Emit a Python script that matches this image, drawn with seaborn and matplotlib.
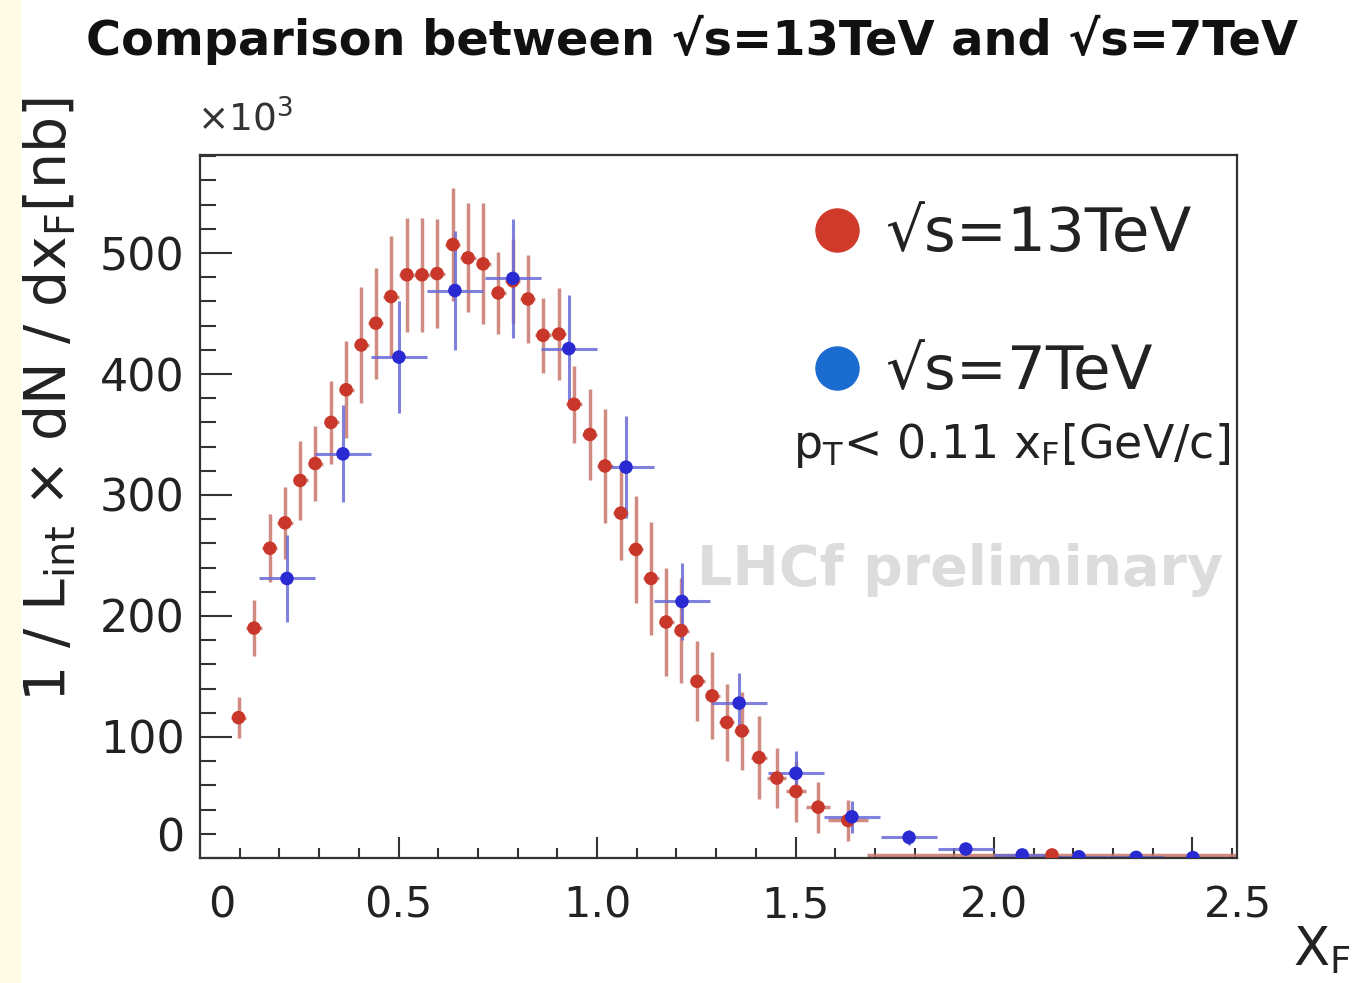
import numpy as np
import pandas as pd
import matplotlib
matplotlib.use("Agg")
import matplotlib.pyplot as plt
import matplotlib.transforms as mtransforms
from matplotlib.lines import Line2D
from matplotlib.patches import Rectangle
from matplotlib.ticker import MultipleLocator
import seaborn as sns

# sqrt(s) = 13 TeV points (values in units of 10^3 nb)
xf_13 = [0.097, 0.136, 0.176, 0.214, 0.252, 0.290, 0.330, 0.368, 0.406, 0.443,
         0.481, 0.521, 0.559, 0.597, 0.637, 0.675, 0.713, 0.751, 0.788, 0.826,
         0.864, 0.904, 0.942, 0.982, 1.020, 1.060, 1.098, 1.136, 1.174, 1.212,
         1.252, 1.290, 1.327, 1.365, 1.408, 1.453, 1.501, 1.557, 1.632, 2.146]
dn_13 = [116, 190, 256, 277, 312, 326, 360, 387, 424, 442,
         464, 482, 482, 483, 507, 496, 491, 467, 477, 462,
         432, 433, 375, 350, 324, 285, 255, 231, 195, 188,
         146, 134, 112, 105, 83, 66, 55, 42, 31, 2.5]
yerr_13 = [17, 23, 28, 30, 33, 31, 34, 40, 48, 46,
           50, 47, 47, 45, 47, 45, 50, 34, 35, 36,
           31, 38, 32, 38, 47, 39, 44, 47, 45, 43,
           33, 36, 32, 32, 34, 25, 25, 21, 17, 2]
xerr_13 = [0.019] * 34 + [0.021, 0.024, 0.026, 0.03, 0.05, 0.466]

# sqrt(s) = 7 TeV points
xf_7 = [0.219, 0.360, 0.501, 0.642, 0.788, 0.929, 1.073, 1.214, 1.358,
        1.501, 1.642, 1.786, 1.929, 2.071, 2.214, 2.358, 2.501]
dn_7 = [231, 334, 414, 469, 479, 421, 323, 212, 128,
        70, 34, 17, 7.4, 2.5, 1.0, 0.5, 0.3]
yerr_7 = [36, 40, 46, 49, 49, 44, 42, 32, 25,
          18, 13, 6, 3, 2, 1, 1, 1]
xerr_7 = [0.071] * 17

labels = ["√s=13TeV", "√s=7TeV"]

red_pt, red_bar, red_leg = "#c8372a", "#c8786c", "#d03a2a"
blue_pt, blue_bar, blue_leg = "#2a2ad2", "#6a6ad8", "#1a6cd0"

sns.set_style("white")
plt.rcParams["font.family"] = ["DejaVu Sans"]
plt.rcParams["mathtext.fontset"] = "dejavusans"

fig = plt.figure(figsize=(13.59, 9.83), dpi=100)
fig.patches.append(Rectangle((0, 0), 20 / 1359, 1, transform=fig.transFigure,
                             color="#fffbe6", zorder=0))
ax = fig.add_axes([0.1472, 0.1272, 0.763, 0.7151])

ax.text(0.733, 0.41, "LHCf preliminary", transform=ax.transAxes, fontsize=40,
        fontweight="bold", color="#dcdcdc", ha="center", va="center", zorder=0)

ax.errorbar(xf_13, dn_13, xerr=xerr_13, yerr=yerr_13, fmt="none",
            ecolor=red_bar, elinewidth=2.5, alpha=0.85, zorder=2)
ax.errorbar(xf_7, dn_7, xerr=xerr_7, yerr=yerr_7, fmt="none",
            ecolor=blue_bar, elinewidth=2.2, alpha=0.85, zorder=2)

df = pd.concat([
    pd.DataFrame({"xF": xf_13, "val": dn_13, "energy": labels[0]}),
    pd.DataFrame({"xF": xf_7, "val": dn_7, "energy": labels[1]}),
])
sns.scatterplot(data=df, x="xF", y="val", hue="energy",
                palette={labels[0]: red_pt, labels[1]: blue_pt},
                s=95, edgecolor="none", legend=False, ax=ax, zorder=3)

ax.set_xlim(0, 2.612)
ax.set_ylim(0, 581)
ax.set_xticks([0, 0.5, 1.0, 1.5, 2.0, 2.5], ["0", "0.5", "1.0", "1.5", "2.0", "2.5"])
ax.set_yticks([0, 100, 200, 300, 400, 500])
ax.xaxis.set_minor_locator(MultipleLocator(0.1))
ax.yaxis.set_minor_locator(MultipleLocator(20))
ax.set_xlabel("")
ax.set_ylabel("")
ax.tick_params(which="both", direction="in", bottom=True, left=True, top=False,
               right=False, colors="#333333", labelcolor="#222222", width=1.5)
ax.tick_params(axis="x", which="major", length=15, labelsize=31, pad=19)
ax.tick_params(axis="x", which="minor", length=7)
ax.tick_params(axis="y", which="major", length=23, labelsize=32, pad=11)
ax.tick_params(axis="y", which="minor", length=11.5)
for sp in ax.spines.values():
    sp.set_linewidth(1.6)
    sp.set_color("#333333")

# shifted tick labels as in the original
def shift(lbl, dx, dy):
    off = mtransforms.ScaledTranslation(dx / 100, dy / 100, fig.dpi_scale_trans)
    lbl.set_transform(lbl.get_transform() + off)

xt = ax.xaxis.get_major_ticks()
shift(xt[0].label1, 22, 0)
shift(xt[-1].label1, 46, 0)
shift(ax.yaxis.get_major_ticks()[0].label1, 0, 23)

handles = [Line2D([], [], marker="o", ls="none", markersize=31, color=red_leg),
           Line2D([], [], marker="o", ls="none", markersize=31, color=blue_leg)]
ax.legend(handles, labels, loc="upper left", bbox_to_anchor=(806 / 1359, 1 - 205 / 983),
          bbox_transform=fig.transFigure, frameon=False, fontsize=44,
          borderpad=0, borderaxespad=0, handlelength=1.0, handletextpad=0.3,
          labelspacing=1.3, labelcolor="#222222")

ax.text(0.783, 0.587, r"p$_{\rm T}$< 0.11 x$_{\rm F}$[GeV/c]", transform=ax.transAxes,
        fontsize=33, color="#222222", ha="center", va="center")

fig.text(0.509, 0.959, "Comparison between √s=13TeV and √s=7TeV", fontsize=34.5,
         fontweight="bold", ha="center", va="center", color="#111111")
fig.text(197 / 1359, 1 - 120 / 983, r"×10$^3$", fontsize=27, ha="left",
         va="center", color="#333333")
fig.text(0.037, 0.593, r"1 / L$_{\rm int}$ × dN / dx$_{\rm F}$[nb]", rotation=90,
         fontsize=41, ha="center", va="center", color="#222222")
fig.text(1322 / 1359, 1 - 950 / 983, r"X$_{\rm F}$", fontsize=38, ha="center",
         va="center", color="#222222")

fig.savefig("out.png", dpi=100)
